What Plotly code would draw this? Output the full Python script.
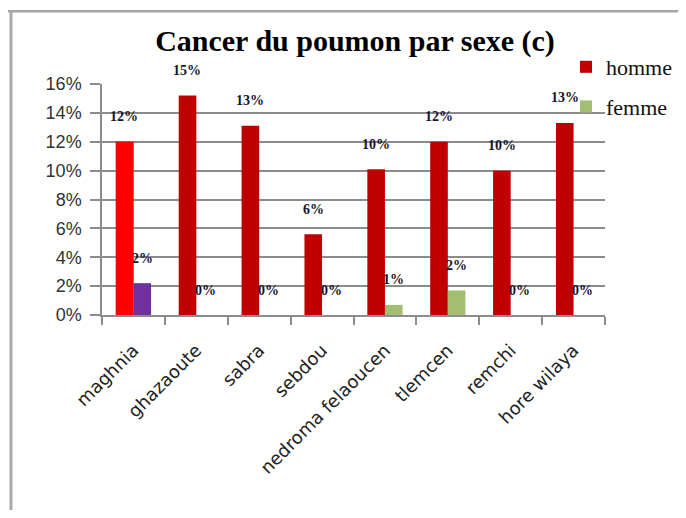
import plotly.graph_objects as go

categories = ["maghnia", "ghazaoute", "sabra", "sebdou", "nedroma felaoucen",
              "tlemcen", "remchi", "hore wilaya"]
homme = [0.120, 0.152, 0.131, 0.056, 0.101, 0.120, 0.100, 0.133]
femme = [0.022, 0.0, 0.0, 0.0, 0.007, 0.017, 0.0, 0.0]
homme_labels = ["12%", "15%", "13%", "6%", "10%", "12%", "10%", "13%"]
femme_labels = ["2%", "0%", "0%", "0%", "1%", "2%", "0%", "0%"]
y_ticks = [0, 0.02, 0.04, 0.06, 0.08, 0.10, 0.12, 0.14, 0.16]

# the page body has an 8px margin; figure sized to fit the window
O = 8
W, H = 686 - 2 * O, 518 - 2 * O
L, R, T, B = 102 - O, 605 - O, 84 - O, 315 - O
PW, PH = R - L, B - T


def px(x):
    # reference-window x pixel -> paper
    return (x - O - L) / PW


def py(y):
    return (B - (y - O)) / PH


C_H = "#C00000"
C_F = "#A3BE72"

fig = go.Figure()
fig.add_trace(go.Bar(x=categories, y=homme, name="homme", marker_color=C_H,
                     offsetgroup="h", legendgroup="h", marker_line_width=0))
fig.add_trace(go.Bar(x=categories, y=femme, name="femme", marker_color=C_F,
                     offsetgroup="f", legendgroup="f", marker_line_width=0))
fig.add_trace(go.Bar(x=categories[:1], y=homme[:1], marker_color="#FF0000",
                     offsetgroup="h", legendgroup="h", showlegend=False,
                     marker_line_width=0))
fig.add_trace(go.Bar(x=categories[:1], y=femme[:1], marker_color="#7030A0",
                     offsetgroup="f", legendgroup="f", showlegend=False,
                     marker_line_width=0))

annotations = []
lab_font = dict(family="Liberation Serif", size=14, color="#15152e")
for c, v, t in zip(categories, homme, homme_labels):
    annotations.append(dict(x=c, y=v, xref="x", yref="y", text="<b>" + t + "</b>",
                            showarrow=False, xshift=-9, yshift=25, font=lab_font))
for c, v, t in zip(categories, femme, femme_labels):
    annotations.append(dict(x=c, y=v, xref="x", yref="y", text="<b>" + t + "</b>",
                            showarrow=False, xshift=9, yshift=25, font=lab_font))

shapes = [
    dict(type="rect", xref="paper", yref="paper", x0=px(0), x1=px(700),
         y0=py(10), y1=py(12.5), fillcolor="#a5a5a5", line_width=0, layer="above"),
    dict(type="rect", xref="paper", yref="paper", x0=px(9.5), x1=px(12.5),
         y0=py(11), y1=py(530), fillcolor="#aaaaaa", line_width=0, layer="above"),
]

fig.update_layout(
    width=W, height=H,
    margin=dict(l=L, r=W - R, t=T, b=H - B, autoexpand=False),
    paper_bgcolor="white", plot_bgcolor="white",
    barmode="group", bargap=0.44, bargroupgap=0,
    title=dict(text="<b>Cancer du poumon par sexe (c)</b>",
               font=dict(family="Liberation Serif", size=30, color="black"),
               x=(355 - O) / W, xanchor="center", y=1 - (40 - O) / H, yanchor="middle"),
    legend=dict(x=px(566), y=py(46), xanchor="left", yanchor="top",
                font=dict(family="Liberation Serif", size=22, color="#111"),
                tracegroupgap=8, bgcolor="rgba(0,0,0,0)", itemwidth=30),
    showlegend=True,
    annotations=annotations,
    shapes=shapes,
    font=dict(family="Liberation Sans"),
)
fig.update_yaxes(range=[0, 0.16], tickvals=y_ticks, tickformat=".0%",
                 showgrid=True, gridcolor="#8c8c8c", gridwidth=1.5,
                 showline=True, linecolor="#8c8c8c", linewidth=1.5,
                 ticks="outside", ticklen=10, tickcolor="#8c8c8c", tickwidth=1.5,
                 ticklabelstandoff=5,
                 tickfont=dict(family="Liberation Sans", size=18, color="#333"),
                 zeroline=False)
fig.update_xaxes(showline=True, linecolor="#8c8c8c", linewidth=1.5,
                 ticks="outside", ticklen=8, tickcolor="#8c8c8c", tickwidth=1.5,
                 tickson="boundaries", tickangle=-45, ticklabelstandoff=16,
                 tickfont=dict(family="DejaVu Sans", size=18, color="#222"),
                 showgrid=False)

fig.write_html("out.html")
